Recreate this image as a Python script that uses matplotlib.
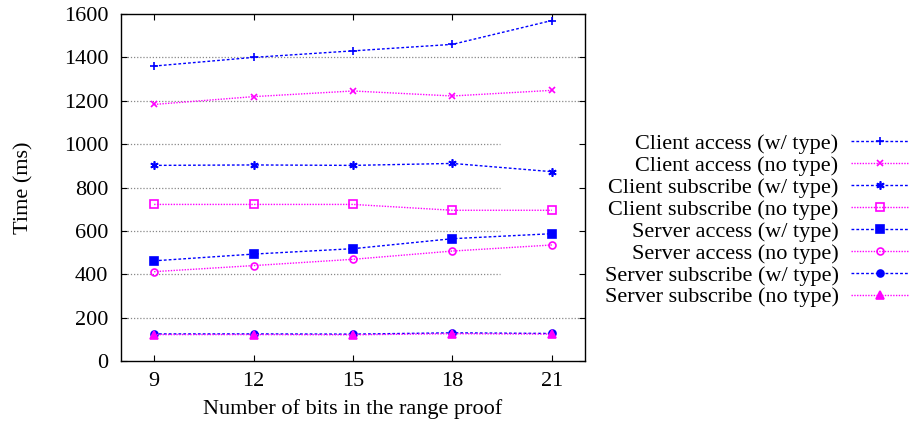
import matplotlib
matplotlib.use("Agg")
import matplotlib.pyplot as plt

plt.rcParams['font.family'] = ['Liberation Serif', 'DejaVu Serif']

bits = [9, 12, 15, 18, 21]

client_access_type = [1360, 1400, 1430, 1460, 1570]
client_access_notype = [1183, 1219, 1245, 1222, 1248]
client_sub_type = [902, 904, 902, 911, 873]
client_sub_notype = [722, 722, 722, 695, 695]
server_access_type = [462, 493, 518, 564, 587]
server_access_notype = [412, 440, 469, 507, 535]
server_sub_type = [125, 125, 124, 130, 127]
server_sub_notype = [122, 122, 121, 126, 124]

labels = [
    "Client access (w/ type)",
    "Client access (no type)",
    "Client subscribe (w/ type)",
    "Client subscribe (no type)",
    "Server access (w/ type)",
    "Server access (no type)",
    "Server subscribe (w/ type)",
    "Server subscribe (no type)",
]
y_ticks = [0, 200, 400, 600, 800, 1000, 1200, 1400, 1600]

BLUE = "#0000ff"
MAGENTA = "#ff00ff"
blue_ls = (0, (2.0, 1.5))
mag_ls = (0, (1.0, 1.0))

series = [
    (client_access_type, BLUE, blue_ls, "+", "full", 6),
    (client_access_notype, MAGENTA, mag_ls, "x", "full", 5),
    (client_sub_type, BLUE, blue_ls, (6, 2, 0), "full", 6),
    (client_sub_notype, MAGENTA, mag_ls, "s", "none", 5.5),
    (server_access_type, BLUE, blue_ls, "s", "full", 5.5),
    (server_access_notype, MAGENTA, mag_ls, "o", "none", 5),
    (server_sub_type, BLUE, blue_ls, "o", "full", 5),
    (server_sub_notype, MAGENTA, mag_ls, "^", "full", 5.5),
]

FS = 16

fig = plt.figure(figsize=(9.09, 4.28), dpi=100)
ax = fig.add_axes([0.1331, 0.1565, 0.5105, 0.8108])

# horizontal grid; the middle lines stop short of the key region
for yv in y_ticks[1:-1]:
    xmax = 0.817 if 400 <= yv <= 1000 else 1.0
    ax.axhline(yv, xmin=0, xmax=xmax, color="#888888", lw=0.9,
               ls=(0, (1.0, 1.5)), zorder=0)

handles = []
for (vals, col, ls, mk, fill, ms), lab in zip(series, labels):
    h, = ax.plot(bits, vals, color=col, ls=ls, lw=1.0, marker=mk, ms=ms,
                 fillstyle=fill, mew=1.2, label=lab, zorder=3)
    handles.append(h)

ax.set_xlim(8, 22)
ax.set_ylim(0, 1600)
ax.set_xticks(bits)
ax.set_yticks(y_ticks)
ax.tick_params(direction="in", length=4.5, width=0.8, top=True, right=True,
               labelsize=FS, pad=9)
ax.tick_params(axis="x", pad=8)
for s in ax.spines.values():
    s.set_linewidth(1.0)

ax.set_xlabel("Number of bits in the range proof", fontsize=FS, labelpad=6)
ax.set_ylabel("Time (ms)", fontsize=FS, labelpad=22)

fig.legend(handles=handles, labels=labels, loc="center right",
           bbox_to_anchor=(0.999, 0.4848), frameon=False, markerfirst=False,
           fontsize=FS, handlelength=2.55, handletextpad=0.58,
           labelspacing=0.06, borderaxespad=0.0, borderpad=0.0)

fig.savefig("out.png", dpi=100)
